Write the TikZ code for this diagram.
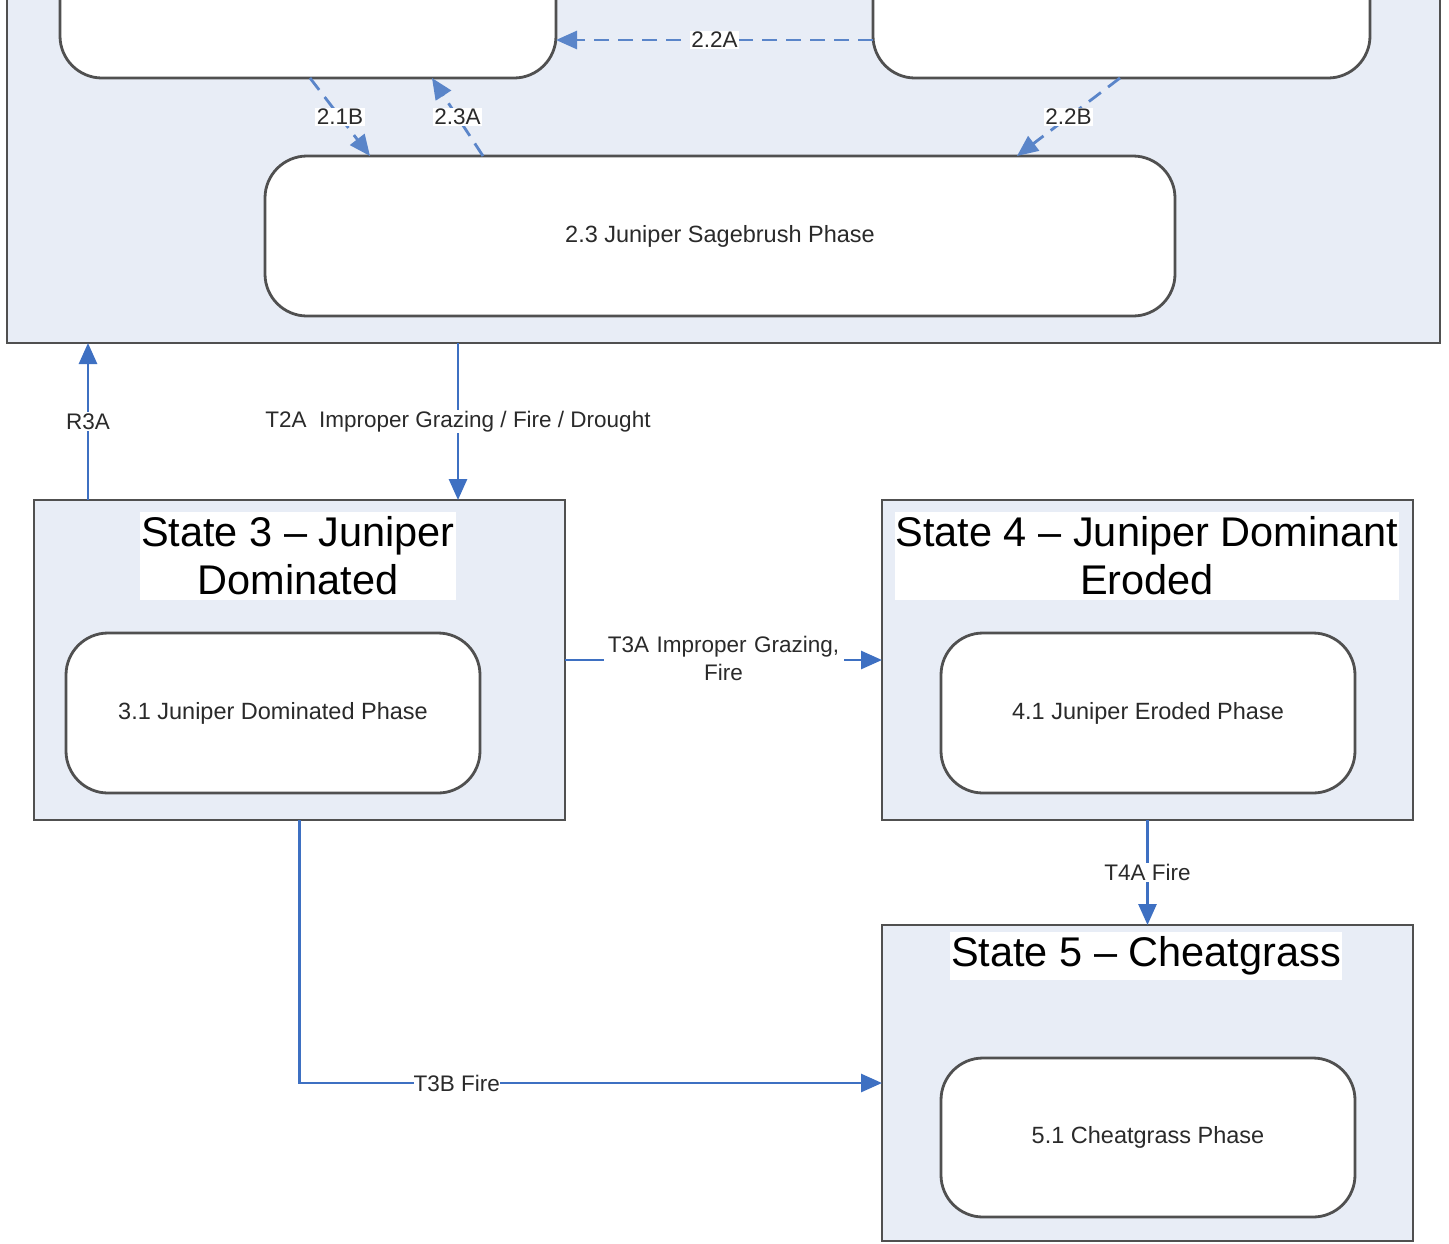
\documentclass[tikz,border=0pt]{standalone}
\usepackage{fontspec}
\setmainfont{Liberation Sans}
\usetikzlibrary{arrows.meta}
\definecolor{statefill}{HTML}{E8EDF6}
\definecolor{boxline}{HTML}{505050}
\definecolor{arrowblue}{HTML}{3E70C2}
\definecolor{dashblue}{HTML}{5A85C9}
\definecolor{txt}{HTML}{2A2A2A}
\begin{document}
\begin{tikzpicture}[x=1pt,y=-1pt,
  statebox/.style={draw=boxline, line width=2.8pt, fill=statefill, rectangle, inner sep=0pt, outer sep=0pt},
  phasebox/.style={draw=boxline, line width=2.8pt, fill=white, rectangle, rounded corners=42pt, inner sep=0pt, outer sep=0pt, text=txt, font=\fontsize{23.5}{27}\selectfont},
  titlebox/.style={fill=white, inner xsep=1pt, inner ysep=5pt, align=center, text=black, font=\fontsize{41.5}{48}\selectfont},
  lab/.style={fill=white, inner sep=1.5pt, text=txt, font=\fontsize{22.5}{28}\selectfont, align=center},
  solidarrow/.style={draw=arrowblue, line width=2.8pt, -{Triangle[length=21pt,width=18pt]}},
  dasharrow/.style={draw=dashblue, line width=2.8pt, dash pattern=on 15pt off 9pt, -{Triangle[length=21pt,width=18pt]}},
]
\path[use as bounding box] (0,0) rectangle (1449,1243);
\fill[white] (0,0) rectangle (1449,1243);
\begin{scope}
\clip (0,0) rectangle (1449,1243);
% State 2 (top, cut off)
\node[statebox, minimum width=1433pt, minimum height=403pt] (s2) at (723.5,141.5) {};
\node[phasebox, minimum width=496pt, minimum height=198pt] (p21) at (308,-21) {};
\node[phasebox, minimum width=497pt, minimum height=198pt] (p22) at (1121.5,-21) {};
\node[phasebox, minimum width=910pt, minimum height=160pt] (p23) at (720,236) {2.3 Juniper Sagebrush Phase};
% State 3
\node[statebox, minimum width=531pt, minimum height=320pt] (s3) at (299.5,660) {};
\node[titlebox] (t3) at (298,556) {State 3 -- Juniper\\Dominated};
\node[phasebox, minimum width=414pt, minimum height=160pt] (p31) at (273,713) {3.1 Juniper Dominated Phase};
% State 4
\node[statebox, minimum width=531pt, minimum height=320pt] (s4) at (1147.5,660) {};
\node[titlebox] (t4) at (1147,556) {State 4 -- Juniper Dominant\\Eroded};
\node[phasebox, minimum width=414pt, minimum height=160pt] (p41) at (1148,713) {4.1 Juniper Eroded Phase};
% State 5
\node[statebox, minimum width=531pt, minimum height=316pt] (s5) at (1147.5,1083) {};
\node[titlebox] (t5) at (1146,956) {State 5 -- Cheatgrass};
\node[phasebox, minimum width=414pt, minimum height=159pt] (p51) at (1148,1137.5) {5.1 Cheatgrass Phase};
% community pathways (dashed)
\draw[dasharrow] ([yshift=38pt]p22.south west) -- node[lab] (l22a) {2.2A} ([yshift=38pt]p21.south east);
\draw[dasharrow] ([xshift=250pt]p21.south west) -- node[lab] (l21b) {2.1B} ([xshift=105pt]p23.north west);
\draw[dasharrow] ([xshift=218pt]p23.north west) -- node[lab] (l23a) {2.3A} ([xshift=372pt]p21.south west);
\draw[dasharrow] ([xshift=247pt]p22.south west) -- node[lab] (l22b) {2.2B} ([xshift=752pt]p23.north west);
% transitions
\draw[solidarrow] ([xshift=54pt]s3.north west) -- node[lab] (lr3a) {R3A} ([xshift=81pt]s2.south west);
\draw[solidarrow] ([xshift=451pt]s2.south west) -- node[lab] (lt2a) {T2A\ \ Improper Grazing / Fire / Drought} ([xshift=424pt]s3.north west);
\draw[solidarrow] (s3.east) -- node[lab, yshift=2pt, inner sep=0pt, text width=240pt] (lt3a) {T3A Improper Grazing,\\Fire} (s4.west);
\draw[solidarrow] (s4.south) -- node[lab] (lt4a) {T4A Fire} (s5.north);
\draw[solidarrow] (s3.south) |- node[lab, pos=0.635, inner sep=0pt] (lt3b) {T3B Fire} (s5.west);
\end{scope}
\end{tikzpicture}
\end{document}
